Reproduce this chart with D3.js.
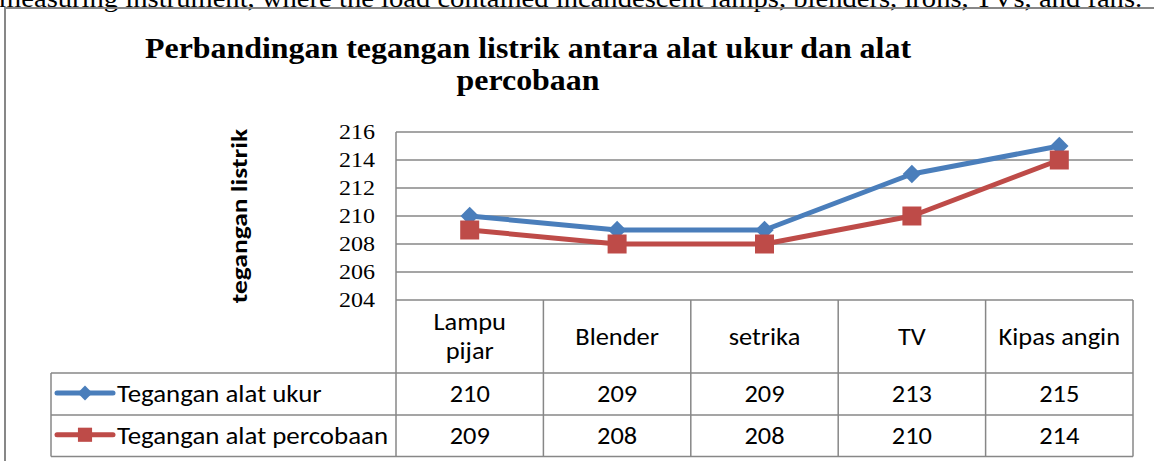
<!DOCTYPE html>
<html>
<head>
<meta charset="utf-8">
<script src="https://cdn.jsdelivr.net/npm/d3@7"></script>
<style>
  body { margin: 0; background: #fff; }
  svg { display: block; }
</style>
</head>
<body>
<div id="chart"></div>
<script>
// chart data
const categories = ["Lampu\npijar", "Blender", "setrika", "TV", "Kipas angin"];
const seriesNames = ["Tegangan alat ukur", "Tegangan alat percobaan"];
const ukur = [210, 209, 209, 213, 215];
const percobaan = [209, 208, 208, 210, 214];
const yTicks = [204, 206, 208, 210, 212, 214, 216];
const titleLines = ["Perbandingan tegangan listrik antara alat ukur dan alat", "percobaan"];
const yTitle = "tegangan listrik";
const pageText = "measuring instrument, where the load contained incandescent lamps, blenders, irons, TVs, and fans.";

const W = 1154, H = 461;
const plot = { left: 396, right: 1133, top: 132, bottom: 300 };
const table = { left: 51, row1: 373, row2: 415, bottom: 456.5 };
const colors = ["#4A7EBB", "#BE4B48"];
const grid = "#878787";
const sansFont = "Carlito, Calibri, 'Open Sans', sans-serif";
const serifFont = "'Liberation Serif', 'Times New Roman', serif";

// the source picture is a bit stretched, so widen glyphs to match
function stretch(sel, k) {
    sel.each(function () {
        const len = this.getComputedTextLength();
        d3.select(this)
            .attr("textLength", len * k)
            .attr("lengthAdjust", "spacingAndGlyphs");
    });
}

const svg = d3.select("#chart")
    .append("svg")
    .attr("width", W)
    .attr("height", H);

// cut off document text above the chart
svg.append("text")
    .attr("x", -1)
    .attr("y", 6.5)
    .style("font-family", serifFont)
    .style("font-size", "26px")
    .attr("fill", "#000")
    .text(pageText)
    .call(stretch, 1.1);

// chart frame
svg.append("path")
    .attr("d", `M5,${H + 2} V8 H${W + 2}`)
    .attr("fill", "none")
    .attr("stroke", grid)
    .attr("stroke-width", 2);

// title
svg.append("g")
    .selectAll("text")
    .data(titleLines)
    .join("text")
    .attr("x", 528)
    .attr("y", (d, i) => 58 + i * 32)
    .attr("text-anchor", "middle")
    .style("font-family", serifFont)
    .style("font-weight", "bold")
    .style("font-size", "29px")
    .text(d => d)
    .call(stretch, 1.1);

const x = d3.scaleBand()
    .domain(d3.range(categories.length))
    .range([plot.left, plot.right]);

const y = d3.scaleLinear()
    .domain([204, 216])
    .range([plot.bottom, plot.top]);

// gridlines
svg.append("g")
    .selectAll("line")
    .data(yTicks)
    .join("line")
    .attr("x1", plot.left)
    .attr("x2", plot.right)
    .attr("y1", d => y(d))
    .attr("y2", d => y(d))
    .attr("stroke", grid)
    .attr("stroke-width", 1.5);

// y axis line
svg.append("line")
    .attr("x1", plot.left).attr("x2", plot.left)
    .attr("y1", plot.top).attr("y2", table.bottom)
    .attr("stroke", grid)
    .attr("stroke-width", 1.5);

// y tick labels
const yAxis = svg.append("g")
    .attr("transform", `translate(${plot.left - 21},0)`)
    .call(d3.axisLeft(y).tickValues(yTicks).tickSize(0).tickPadding(0));
yAxis.select(".domain").remove();
yAxis.selectAll("text")
    .style("font-family", serifFont)
    .style("font-size", "20px")
    .attr("fill", "#000")
    .call(stretch, 1.2);

// y axis title
svg.append("text")
    .attr("transform", `translate(247,216) rotate(-90)`)
    .attr("text-anchor", "middle")
    .style("font-family", sansFont)
    .style("font-weight", "bold")
    .style("font-size", "22px")
    .text(yTitle)
    .call(stretch, 1.25);

// table lines
const tbl = svg.append("g")
    .attr("stroke", grid)
    .attr("stroke-width", 1.5);
tbl.append("line")
    .attr("x1", plot.right).attr("x2", plot.right)
    .attr("y1", plot.bottom).attr("y2", table.bottom);
tbl.selectAll(".col")
    .data(d3.range(1, categories.length))
    .join("line")
    .attr("x1", d => x(d)).attr("x2", d => x(d))
    .attr("y1", plot.bottom).attr("y2", table.bottom);
tbl.selectAll(".row")
    .data([table.row1, table.row2, table.bottom])
    .join("line")
    .attr("x1", table.left).attr("x2", plot.right)
    .attr("y1", d => d).attr("y2", d => d);
tbl.append("line")
    .attr("x1", table.left).attr("x2", table.left)
    .attr("y1", table.row1).attr("y2", table.bottom);

// header labels
const header = svg.append("g")
    .style("font-family", sansFont)
    .style("font-size", "24px");
categories.forEach((c, i) => {
    const lines = c.split("\n");
    const cy = (plot.bottom + table.row1) / 2;
    lines.forEach((ln, j) => {
        header.append("text")
            .attr("x", x(i) + x.bandwidth() / 2)
            .attr("y", cy + (j - (lines.length - 1) / 2) * 29)
            .attr("dy", "0.35em")
            .attr("text-anchor", "middle")
            .text(ln)
            .call(stretch, 1.1);
    });
});

// series
const series = [ukur, percobaan];
const rowMid = [(table.row1 + table.row2) / 2, (table.row2 + table.bottom) / 2];
const diamond = d3.symbol().type(d3.symbolSquare).size(170);

series.forEach((vals, s) => {
    const g = svg.append("g");
    g.append("path")
        .datum(vals)
        .attr("fill", "none")
        .attr("stroke", colors[s])
        .attr("stroke-width", 5)
        .attr("stroke-linejoin", "round")
        .attr("d", d3.line()
            .x((d, i) => x(i) + x.bandwidth() / 2)
            .y(d => y(d)));
    g.selectAll(".m")
        .data(vals)
        .join("path")
        .attr("fill", colors[s])
        .attr("transform", (d, i) => `translate(${x(i) + x.bandwidth() / 2},${y(d)})` + (s === 0 ? " rotate(45)" : ""))
        .attr("d", s === 0 ? diamond : d3.symbol().type(d3.symbolSquare).size(361));

    // table row: legend key + values
    const ry = rowMid[s];
    g.append("line")
        .attr("x1", 57).attr("x2", 113)
        .attr("y1", ry - 1).attr("y2", ry - 1)
        .attr("stroke", colors[s])
        .attr("stroke-width", 5)
        .attr("stroke-linecap", "round");
    g.append("path")
        .attr("fill", colors[s])
        .attr("transform", `translate(85,${ry - 1})` + (s === 0 ? " rotate(45)" : ""))
        .attr("d", s === 0 ? d3.symbol().type(d3.symbolSquare).size(110) : d3.symbol().type(d3.symbolSquare).size(200));
    g.append("text")
        .attr("x", 117)
        .attr("y", ry)
        .attr("dy", "0.35em")
        .style("font-family", sansFont)
        .style("font-size", "24px")
        .text(seriesNames[s])
        .call(stretch, 1.12);
    g.selectAll(".v")
        .data(vals)
        .join("text")
        .attr("x", (d, i) => x(i) + x.bandwidth() / 2)
        .attr("y", ry)
        .attr("dy", "0.35em")
        .attr("text-anchor", "middle")
        .style("font-family", sansFont)
        .style("font-size", "24px")
        .text(d => d)
        .call(stretch, 1.1);
});
</script>
</body>
</html>
